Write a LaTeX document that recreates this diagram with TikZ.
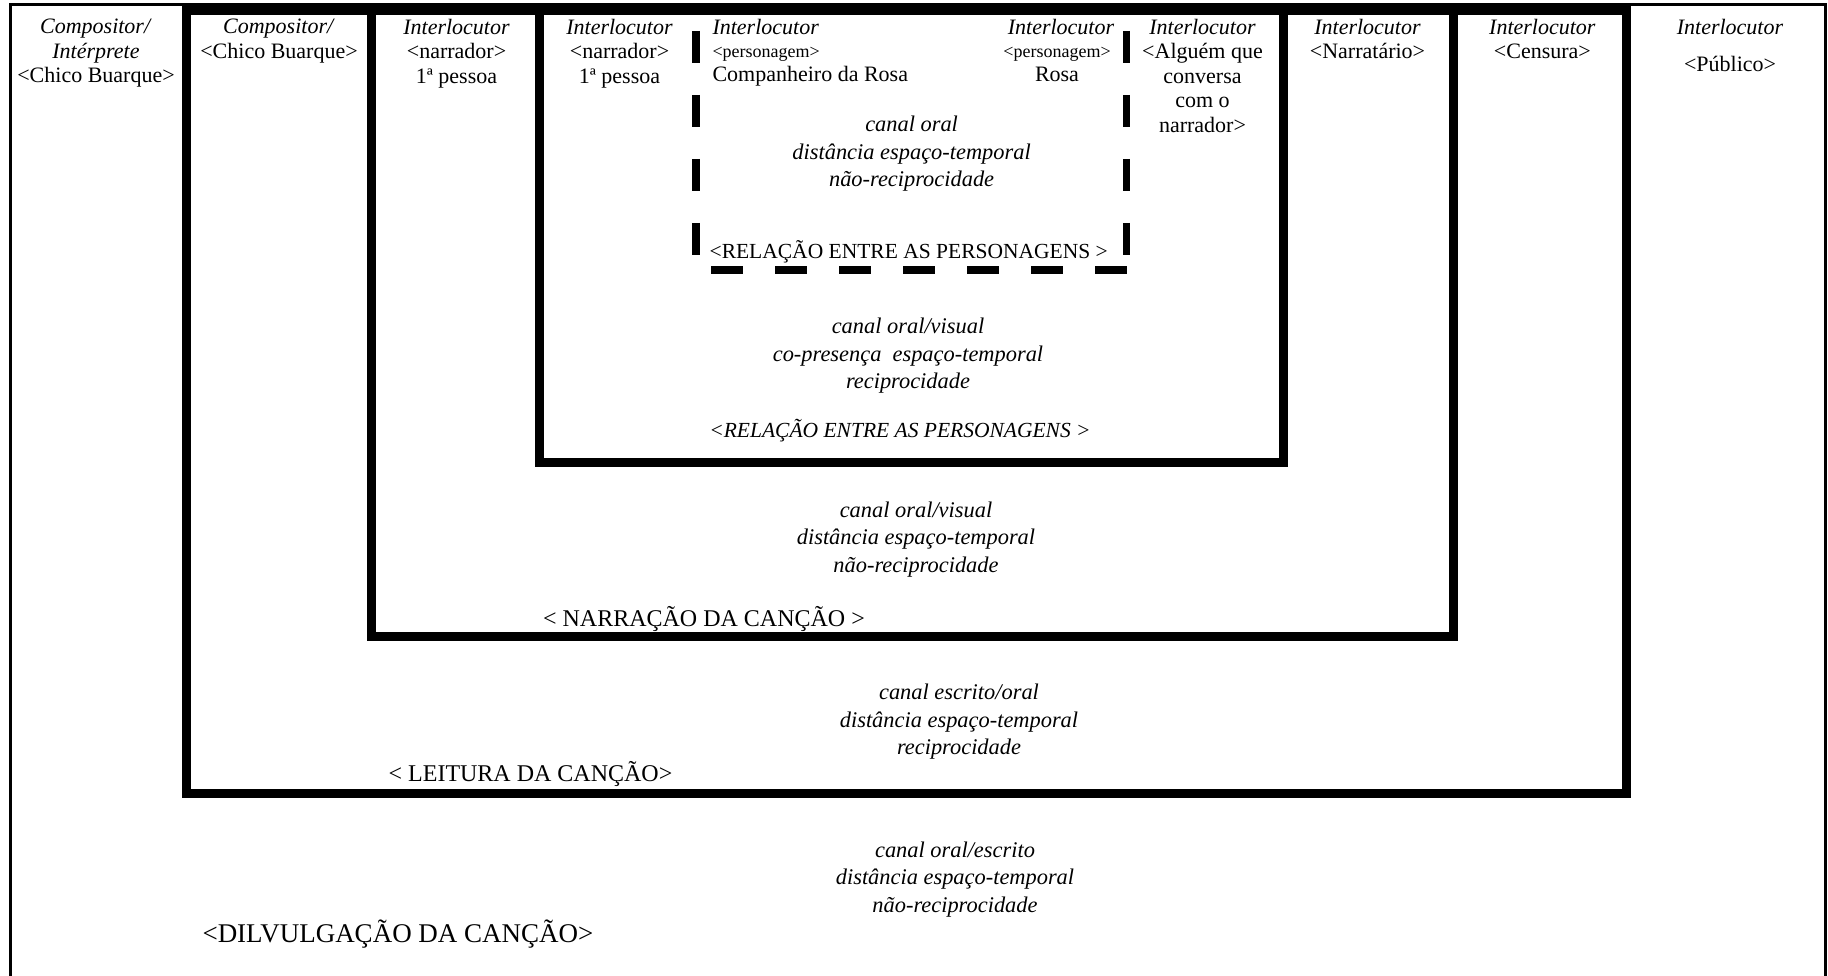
\documentclass[tikz,border=0pt]{standalone}
\usepackage{fontspec}
\setmainfont{Liberation Serif}
\begin{document}
\begin{tikzpicture}[x=1pt,y=-1pt,
  frame/.style={draw=black,line width=3pt},
  levelbox/.style={draw=black,line width=9pt},
  dashedge/.style={draw=black,line width=7.5pt,dash pattern=on 32pt off 32pt},
  hdr/.style={inner sep=0pt,anchor=north,align=center,font=\fontsize{22}{24.5}\selectfont},
  body/.style={inner sep=0pt,align=center,font=\itshape\fontsize{22.4}{27.5}\selectfont},
  tag/.style={inner sep=0pt,anchor=base,font=\fontsize{21.5}{24}\selectfont},
  bigtag/.style={inner sep=0pt,anchor=base,font=\fontsize{24}{28}\selectfont}]
\useasboundingbox (0,0) rectangle (1828,976);

% outer frame, open at the bottom
\draw[frame] (10.5,976) -- (10.5,4.5) -- (1825.5,4.5) -- (1825.5,976);

% nested communication levels
\draw[levelbox] (186.5,11) rectangle (1626.5,793.5);
\draw[levelbox] (371.5,11) rectangle (1453.5,636.5);
\draw[levelbox] (539.5,11) rectangle (1283.5,462);

% dialogue between the characters (open at the top)
\draw[dashedge] (696,31) -- (696,255)
                (711,270) -- (1127,270)
                (1126.5,31) -- (1126.5,255);

% column headers
\node[hdr] (h1) at (96,19) {\textit{Compositor/}\\\textit{Intérprete}\\<Chico Buarque>};
\node[hdr] (h2) at (279,19) {\textit{Compositor/}\\<Chico Buarque>};
\node[hdr] (h3) at (456.5,19) {\textit{Interlocutor}\\<narrador>\\1ª pessoa};
\node[hdr] (h4) at (619.5,19) {\textit{Interlocutor}\\<narrador>\\1ª pessoa};
\node[hdr,anchor=north west,align=left] (h5) at (712.3,19)
  {\textit{Interlocutor}\\[-1.5pt]{\fontsize{18}{20}\selectfont <personagem>}\\[-0.5pt]Companheiro da Rosa};
\node[hdr] (h6) at (1057,19)
  {\hspace*{8pt}\textit{Interlocutor}\\[-1.5pt]{\fontsize{18}{20}\selectfont <personagem>}\\[-0.5pt]Rosa};
\node[hdr] (h7) at (1202.5,19) {\textit{Interlocutor}\\<Alguém que\\conversa\\com o\\narrador>};
\node[hdr] (h8) at (1367.5,19) {\textit{Interlocutor}\\<Narratário>};
\node[hdr] (h9) at (1542.4,19) {\textit{Interlocutor}\\<Censura>};
\node[hdr] (h10) at (1730,19) {\textit{Interlocutor}\\[12.5pt]<Público>};

% characteristics of each level
\node[body] (b1) at (911.6,154) {canal oral\\distância espaço-temporal\\não-reciprocidade};
\node[tag] (t1) at (908.7,259) {<RELAÇÃO ENTRE AS PERSONAGENS >};

\node[body] (b2) at (908,356) {canal oral/visual\\co-presença\ \ espaço-temporal\\reciprocidade};
\node[tag,font=\itshape\fontsize{21.5}{24}\selectfont] (t2) at (900,437) {<RELAÇÃO ENTRE AS PERSONAGENS >};

\node[body] (b3) at (916,539.5) {canal oral/visual\\distância espaço-temporal\\não-reciprocidade};
\node[bigtag] (t3) at (704,626) {< NARRAÇÃO DA CANÇÃO >};

\node[body] (b4) at (959,722) {canal escrito/oral\\distância espaço-temporal\\reciprocidade};
\node[bigtag] (t4) at (530.5,781) {< LEITURA DA CANÇÃO>};

\node[body] (b5) at (955,879.5) {canal oral/escrito\\distância espaço-temporal\\não-reciprocidade};
\node[bigtag,font=\fontsize{27}{30}\selectfont] (t5) at (398,942) {<DILVULGAÇÃO DA CANÇÃO>};
\end{tikzpicture}
\end{document}
